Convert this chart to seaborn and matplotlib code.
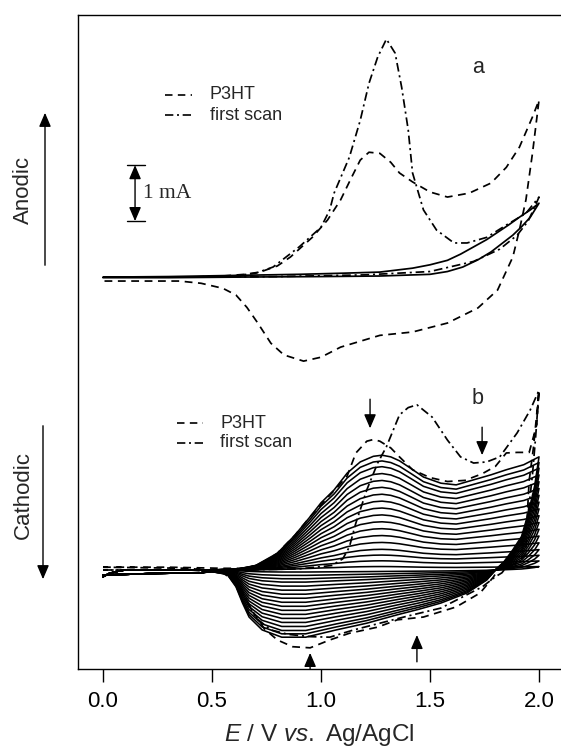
import numpy as np
import pandas as pd
import matplotlib
matplotlib.use("Agg")
import matplotlib.pyplot as plt
import seaborn as sns

# ---------------- panel a: currents in mA relative to the panel-a baseline ----------------
a_p3ht_E = [0.0, 0.2, 0.4, 0.55, 0.65, 0.72, 0.80, 0.86, 0.96, 1.03, 1.09, 1.14, 1.18, 1.22, 1.27,
            1.32, 1.36, 1.42, 1.50, 1.58, 1.68, 1.78, 1.85, 1.91, 1.97, 2.00,
            1.97, 1.94, 1.91, 1.88, 1.81, 1.72, 1.58, 1.42, 1.27, 1.09, 1.00, 0.92, 0.83, 0.77,
            0.71, 0.66, 0.61, 0.55, 0.45, 0.35, 0.0]
a_p3ht_I = [0.0, 0.0, 0.0, 0.02, 0.05, 0.09, 0.20, 0.36, 0.71, 1.02, 1.38, 1.78, 2.09, 2.23, 2.21,
            2.05, 1.86, 1.70, 1.52, 1.43, 1.50, 1.68, 1.96, 2.32, 2.86, 3.16,
            2.21, 1.38, 0.84, 0.36, -0.23, -0.55, -0.82, -0.98, -1.04, -1.25, -1.43, -1.50, -1.39, -1.18,
            -0.82, -0.54, -0.32, -0.20, -0.11, -0.07, -0.07]

a_first_E = [0.0, 0.4, 0.6, 0.70, 0.78, 0.90, 1.00, 1.04, 1.06, 1.13, 1.18, 1.22, 1.26, 1.30, 1.34,
             1.37, 1.40, 1.42, 1.47, 1.53, 1.61, 1.67, 1.76, 1.85, 1.94, 2.00,
             1.98, 1.95, 1.90, 1.82, 1.70, 1.50, 1.20, 0.80, 0.40, 0.0]
a_first_I = [0.0, 0.0, 0.02, 0.07, 0.18, 0.54, 0.89, 1.20, 1.50, 2.14, 2.80, 3.46, 3.93, 4.25, 4.00,
             3.39, 2.63, 1.86, 1.20, 0.84, 0.61, 0.61, 0.71, 0.93, 1.14, 1.43,
             1.25, 1.00, 0.75, 0.50, 0.28, 0.10, 0.04, 0.01, 0.0, 0.0]

a_solid_E = [0.0, 0.3, 0.6, 0.9, 1.1, 1.27, 1.42, 1.50, 1.58, 1.64, 1.70, 1.76, 1.81, 1.86, 1.91, 1.96, 2.0,
             1.96, 1.92, 1.88, 1.83, 1.78, 1.72, 1.65, 1.58, 1.50, 1.27, 1.0, 0.6, 0.3, 0.0]
a_solid_I = [0.0, 0.01, 0.03, 0.05, 0.07, 0.09, 0.16, 0.22, 0.30, 0.41, 0.54, 0.67, 0.80, 0.93, 1.07, 1.20, 1.32,
             1.07, 0.90, 0.75, 0.60, 0.45, 0.31, 0.18, 0.10, 0.05, 0.02, 0.01, 0.0, -0.01, -0.01]

# ---------------- panel b: currents in mA relative to the panel-b baseline ----------------
b_p3ht_E = [0.0, 0.3, 0.55, 0.65, 0.72, 0.80, 0.88, 0.95, 1.02, 1.08, 1.12, 1.16, 1.21, 1.24, 1.27,
            1.32, 1.36, 1.42, 1.50, 1.58, 1.66, 1.74, 1.80, 1.85, 1.90, 1.955, 1.99, 2.00,
            1.975, 1.955, 1.945, 1.94, 1.90, 1.85, 1.82, 1.79, 1.73, 1.62, 1.47, 1.35, 1.26, 1.13,
            1.04, 0.95, 0.87, 0.80, 0.74, 0.68, 0.62, 0.55, 0.4, 0.0]
b_p3ht_I = [0.05, 0.05, 0.03, 0.03, 0.10, 0.30, 0.62, 0.95, 1.25, 1.50, 1.68, 2.09, 2.30, 2.33, 2.30,
            2.18, 2.02, 1.79, 1.65, 1.58, 1.60, 1.72, 1.85, 2.09, 2.10, 2.10, 2.60, 3.21,
            2.20, 1.60, 0.90, 0.30, 0.12, 0.06, 0.05, -0.13, -0.41, -0.66, -0.84, -0.89, -1.02, -1.13,
            -1.25, -1.39, -1.37, -1.25, -1.05, -0.70, -0.25, -0.05, 0.03, 0.05]

b_first_E = [0.0, 0.3, 0.6, 0.9, 1.05, 1.10, 1.13, 1.16, 1.21, 1.26, 1.30, 1.36, 1.40, 1.44, 1.51,
             1.58, 1.64, 1.70, 1.76, 1.82, 1.90, 1.96, 2.00,
             1.985, 1.97, 1.95, 1.92, 1.87, 1.83, 1.80, 1.74, 1.55, 1.40, 1.25, 1.15, 1.04, 0.95,
             0.85, 0.77, 0.70, 0.64, 0.58, 0.4, 0.0]
b_first_I = [0.0, 0.0, 0.0, 0.02, 0.08, 0.20, 0.41, 0.84, 1.43, 1.91, 2.20, 2.77, 2.90, 2.95, 2.73,
             2.32, 2.02, 1.91, 1.93, 2.02, 2.45, 2.86, 3.21,
             2.40, 1.70, 1.00, 0.50, 0.15, -0.05, -0.12, -0.30, -0.68, -0.82, -0.97, -1.07, -1.20, -1.19,
             -1.15, -1.07, -0.85, -0.40, -0.06, 0.0, 0.0]

# largest repeated-scan cycle (forward and return branches)
b_cyc_up_E = [0.1, 0.3, 0.5, 0.62, 0.7, 0.8, 0.88, 0.95, 1.0, 1.06, 1.12, 1.18, 1.24, 1.28, 1.32,
              1.36, 1.41, 1.47, 1.55, 1.62, 1.70, 1.78, 1.85, 1.93, 2.0]
b_cyc_up_I = [0.0, 0.0, 0.0, 0.02, 0.08, 0.30, 0.62, 0.95, 1.20, 1.43, 1.73, 1.93, 2.03, 2.05, 2.02,
              1.95, 1.82, 1.66, 1.55, 1.52, 1.61, 1.70, 1.79, 1.88, 2.02]
b_cyc_dn_E = [1.98, 1.95, 1.92, 1.88, 1.84, 1.80, 1.76, 1.67, 1.55, 1.45, 1.35, 1.21, 1.07, 0.93,
              0.82, 0.73, 0.67, 0.64, 0.61, 0.57, 0.5]
b_cyc_dn_I = [1.50, 1.00, 0.60, 0.36, 0.15, 0.0, -0.18, -0.41, -0.59, -0.70, -0.80, -0.95, -1.07, -1.20,
              -1.20, -1.07, -0.84, -0.59, -0.30, -0.08, -0.03]
# start-up transient and resting tail shared by every cycle
b_start_E = [0.0, 0.03, 0.07]
b_start_I = [-0.12, -0.06, -0.02]
b_tail_E = [0.45, 0.25, 0.0]
b_tail_I = [-0.05, -0.06, -0.09]
# relative size of each successive cycle
b_cycle_size = [0.03, 0.08, 0.13, 0.18, 0.24, 0.30, 0.36, 0.42, 0.48, 0.54,
                0.60, 0.66, 0.72, 0.78, 0.84, 0.90, 0.95, 1.0]

x_ticks = [0.0, 0.5, 1.0, 1.5, 2.0]
x_ticklabels = ["0.0", "0.5", "1.0", "1.5", "2.0"]
legend_labels = ["P3HT", "first scan"]

A_OFFSET = 5.23          # vertical offset of panel a (mA)
DASH = (4.5, 3.2)
DASHDOT = (5.0, 2.2, 1.2, 2.2)

sns.set_theme(style="white")
plt.rcParams["font.family"] = ["Liberation Sans", "DejaVu Sans"]
plt.rcParams["mathtext.fontset"] = "custom"
plt.rcParams["mathtext.rm"] = "Liberation Sans"
plt.rcParams["mathtext.it"] = "Liberation Sans:italic"

fig = plt.figure(figsize=(5.61, 7.49), dpi=100)
ax = fig.add_axes([78 / 561, 80 / 749, 483 / 561, 654 / 749])


def trace(E, I, offset=0.0, dashes=None, lw=1.15):
    df = pd.DataFrame({"E": E, "I": np.asarray(I, dtype=float) + offset})
    sns.lineplot(data=df, x="E", y="I", sort=False, estimator=None, ax=ax,
                 color="black", linewidth=lw)
    line = ax.lines[-1]
    if dashes is not None:
        line.set_dashes(dashes)
    line.set_solid_joinstyle("round")
    return line


# repeated cycles in panel b
for s in b_cycle_size:
    E = b_start_E + b_cyc_up_E + b_cyc_dn_E + b_tail_E
    I = (b_start_I + [s * v for v in b_cyc_up_I] + [s * v for v in b_cyc_dn_I] + b_tail_I)
    trace(E, I, lw=1.15)

trace(b_p3ht_E, b_p3ht_I, dashes=DASH, lw=1.25)
trace(b_first_E, b_first_I, dashes=DASHDOT, lw=1.25)

# panel a
trace(a_solid_E, a_solid_I, A_OFFSET, lw=1.25)
trace(a_p3ht_E, a_p3ht_I, A_OFFSET, dashes=DASH, lw=1.25)
trace(a_first_E, a_first_I, A_OFFSET, dashes=DASHDOT, lw=1.25)

ax.set_xlim(-0.1147, 2.1009)
ax.set_ylim(-1.768, 9.911)
ax.set_xticks(x_ticks)
ax.set_xticklabels(x_ticklabels)
ax.set_yticks([])
ax.set_xlabel(r"$E$ / V $vs.$ Ag/AgCl", fontsize=17.5, labelpad=7)
ax.set_ylabel("")
ax.tick_params(axis="x", direction="out", length=9, width=1.0, pad=7,
               labelsize=16, colors="black", bottom=True)
for side in ["left", "top", "bottom"]:
    ax.spines[side].set_visible(True)
    ax.spines[side].set_color("black")
    ax.spines[side].set_linewidth(1.0)
ax.spines["right"].set_visible(False)


# legends
def legend_block(x0, x1, xt, y1, y2):
    for y, d, lab in [(y1, DASH, legend_labels[0]), (y2, DASHDOT, legend_labels[1])]:
        ln, = ax.plot([x0, x1], [y, y], transform=ax.transAxes, color="black", lw=1.2)
        ln.set_dashes(d)
        ax.text(xt, y, lab, transform=ax.transAxes, fontsize=13, va="center", ha="left")


legend_block(0.180, 0.236, 0.273, 0.878, 0.847)
legend_block(0.205, 0.259, 0.294, 0.376, 0.346)

ax.text(0.828, 0.919, "a", transform=ax.transAxes, fontsize=15.5, ha="center", va="center")
ax.text(0.828, 0.414, "b", transform=ax.transAxes, fontsize=15.5, ha="center", va="center")

# 1 mA scale bar
ax.annotate("", xy=(0.147, A_OFFSET + 2.0), xytext=(0.147, A_OFFSET + 1.0),
            arrowprops=dict(arrowstyle="<|-|>,head_length=0.7,head_width=0.3",
                            color="black", lw=1.0, mutation_scale=12, shrinkA=0, shrinkB=0))
ax.plot([0.11, 0.193], [A_OFFSET + 2.0] * 2, color="black", lw=1.0)
ax.plot([0.11, 0.193], [A_OFFSET + 1.0] * 2, color="black", lw=1.0)
ax.text(0.183, A_OFFSET + 1.5, "1 mA", fontsize=15.5, va="center", ha="left",
        family=["Liberation Serif", "DejaVu Serif"])

# arrows marking peak evolution in panel b
arrow_kw = dict(arrowstyle="-|>,head_length=0.7,head_width=0.3", color="black", lw=1.0,
                mutation_scale=12, shrinkA=0, shrinkB=0)
for (xe, y0, y1) in [(1.225, 3.05, 2.53), (1.739, 2.55, 2.05), (0.95, -1.77, -1.48), (1.44, -1.64, -1.16)]:
    ax.annotate("", xy=(xe, y1), xytext=(xe, y0), arrowprops=arrow_kw, annotation_clip=False)

# side labels
H = 749
fig.text(23 / 561, 1 - 190 / H, "Anodic", rotation=90, fontsize=16, ha="center", va="center")
fig.text(23 / 561, 1 - 495 / H, "Cathodic", rotation=90, fontsize=16, ha="center", va="center")
fig.add_artist(matplotlib.patches.FancyArrowPatch(
    (45 / 561, 1 - 268 / H), (45 / 561, 1 - 110 / H), transform=fig.transFigure,
    arrowstyle="-|>,head_length=0.7,head_width=0.3", mutation_scale=12, color="black", lw=1.0))
fig.add_artist(matplotlib.patches.FancyArrowPatch(
    (43 / 561, 1 - 423 / H), (43 / 561, 1 - 582 / H), transform=fig.transFigure,
    arrowstyle="-|>,head_length=0.7,head_width=0.3", mutation_scale=12, color="black", lw=1.0))

fig.savefig("out.png", dpi=100, facecolor="white")
